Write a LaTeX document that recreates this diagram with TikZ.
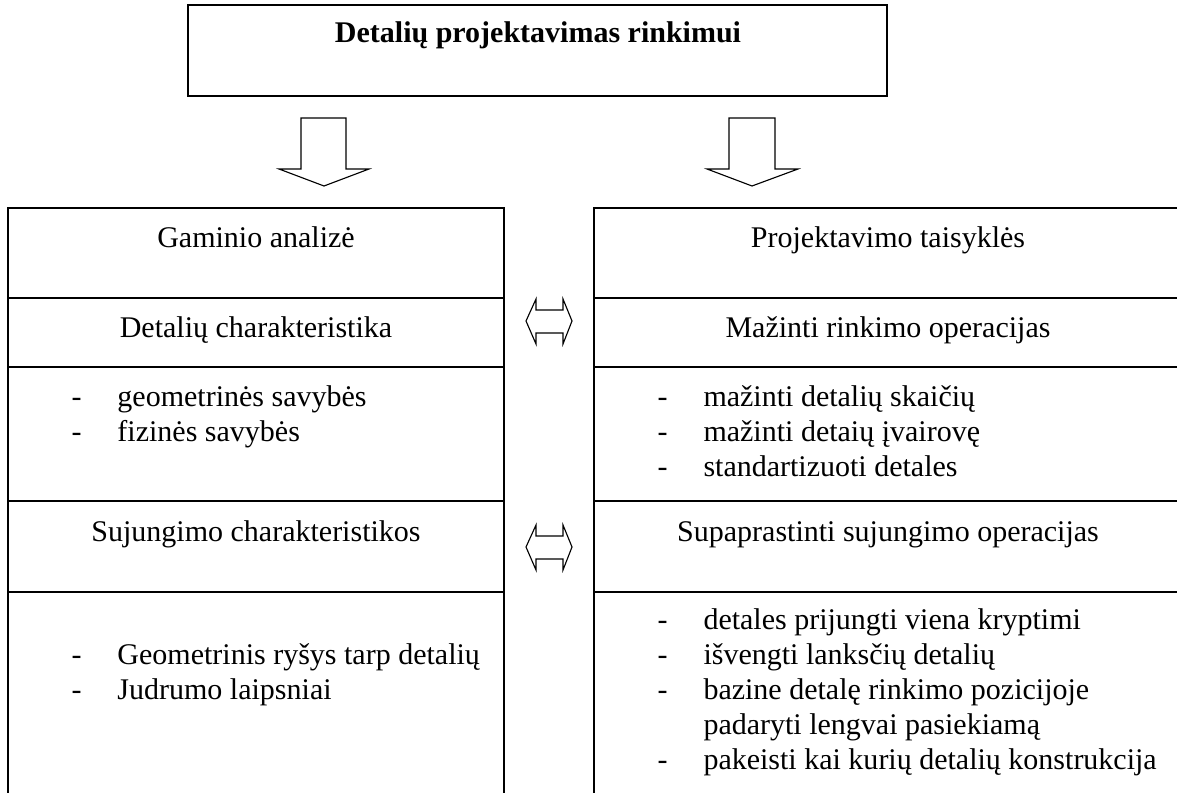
\documentclass[tikz,border=0pt]{standalone}
\usepackage{fontspec}
\setmainfont{Liberation Serif}
\usetikzlibrary{positioning}
\newcommand{\pxu}{0.4pt}
\newcommand{\itemdash}{\makebox[18.4pt][l]{-}}
\tikzset{
  %% ---- boxes ----
  cell/.style    = {rectangle, draw, line width=0.5pt, inner sep=0pt,
                    outer sep=0pt, anchor=north west},
  headtxt/.style = {anchor=base, inner sep=0pt,
                    font=\fontsize{12}{14}\selectfont},
  itemtxt/.style = {anchor=base west, inner sep=0pt,
                    font=\fontsize{12}{14}\selectfont},
  %% ---- arrows ----
  blockarrow/.style = {draw, line width=0.45pt, line join=miter},
}
\begin{document}
\begin{tikzpicture}[x=\pxu, y=-\pxu]
\useasboundingbox (0,0) rectangle (1177,792);
\clip (0,0) rectangle (1177,792);

% Title box
\node[cell, minimum width=699*\pxu, minimum height=91*\pxu] (title) at (188,5) {};
\node[headtxt, font=\fontsize{12}{14}\selectfont\bfseries] (titleTxt) at (538,43)
  {Detalių projektavimas rinkimui};

% Down arrows
\draw[blockarrow] (301,118) -- (346,118) -- (346,169) -- (369,169)
  -- (324,186) -- (279,169) -- (301,169) -- cycle;
\draw[blockarrow] (729,118) -- (775,118) -- (775,169) -- (798,169)
  -- (752,186) -- (707,169) -- (729,169) -- cycle;

% Left column
\node[cell, minimum width=496*\pxu, minimum height=90*\pxu] (gaminys) at (8,208) {};
\node[cell, minimum width=496*\pxu, minimum height=69*\pxu,
      below=0pt of gaminys] (detChar) {};
\node[cell, minimum width=496*\pxu, minimum height=134*\pxu,
      below=0pt of detChar] (detList) {};
\node[cell, minimum width=496*\pxu, minimum height=91*\pxu,
      below=0pt of detList] (sujChar) {};
\node[cell, minimum width=496*\pxu, minimum height=210*\pxu,
      below=0pt of sujChar] (sujList) {};

% Right column (runs past the right edge)
\node[cell, minimum width=588*\pxu, minimum height=90*\pxu] (taisykles) at (594,208) {};
\node[cell, minimum width=588*\pxu, minimum height=69*\pxu,
      below=0pt of taisykles] (mazinti) {};
\node[cell, minimum width=588*\pxu, minimum height=134*\pxu,
      below=0pt of mazinti] (mazList) {};
\node[cell, minimum width=588*\pxu, minimum height=91*\pxu,
      below=0pt of mazList] (supap) {};
\node[cell, minimum width=588*\pxu, minimum height=210*\pxu,
      below=0pt of supap] (supList) {};

% Headings
\node[headtxt] (gaminysTxt)   at (256,247) {Gaminio analizė};
\node[headtxt] (detCharTxt)   at (256,337) {Detalių charakteristika};
\node[headtxt] (sujCharTxt)   at (256,541) {Sujungimo charakteristikos};
\node[headtxt] (taisyklesTxt) at (888,247) {Projektavimo taisyklės};
\node[headtxt] (mazintiTxt)   at (888,337) {Mažinti rinkimo operacijas};
\node[headtxt] (supapTxt)     at (888,541) {Supaprastinti sujungimo operacijas};

% Lists, left
\node[itemtxt] (geomSav)  at (71,406) {\itemdash geometrinės savybės};
\node[itemtxt] (fizSav)   at (71,441) {\itemdash fizinės savybės};
\node[itemtxt] (geomRys)  at (71,664) {\itemdash Geometrinis ryšys tarp detalių};
\node[itemtxt] (judrumas) at (71,699) {\itemdash Judrumo laipsniai};

% Lists, right
\node[itemtxt] (skaicius)  at (657,406) {\itemdash mažinti detalių skaičių};
\node[itemtxt] (ivairove)  at (657,441) {\itemdash mažinti detaių įvairovę};
\node[itemtxt] (standart)  at (657,476) {\itemdash standartizuoti detales};
\node[itemtxt] (kryptis)   at (657,629) {\itemdash detales prijungti viena kryptimi};
\node[itemtxt] (lanksts)   at (657,664) {\itemdash išvengti lanksčių detalių};
\node[itemtxt] (bazine)    at (657,699) {\itemdash bazine detalę rinkimo pozicijoje};
\node[itemtxt] (padaryti)  at (703,734) {padaryti lengvai pasiekiamą};
\node[itemtxt] (konstr)    at (657,769) {\itemdash pakeisti kai kurių detalių konstrukcija};

% Double arrows
\draw[blockarrow] (526,321) -- (536,299) -- (536,310) -- (563,310) -- (563,299)
  -- (572,321) -- (563,344) -- (563,333) -- (536,333) -- (536,344) -- cycle;
\draw[blockarrow, shift={(0,226)}] (526,321) -- (536,299) -- (536,310) -- (563,310)
  -- (563,299) -- (572,321) -- (563,344) -- (563,333) -- (536,333) -- (536,344) -- cycle;

\end{tikzpicture}
\end{document}
